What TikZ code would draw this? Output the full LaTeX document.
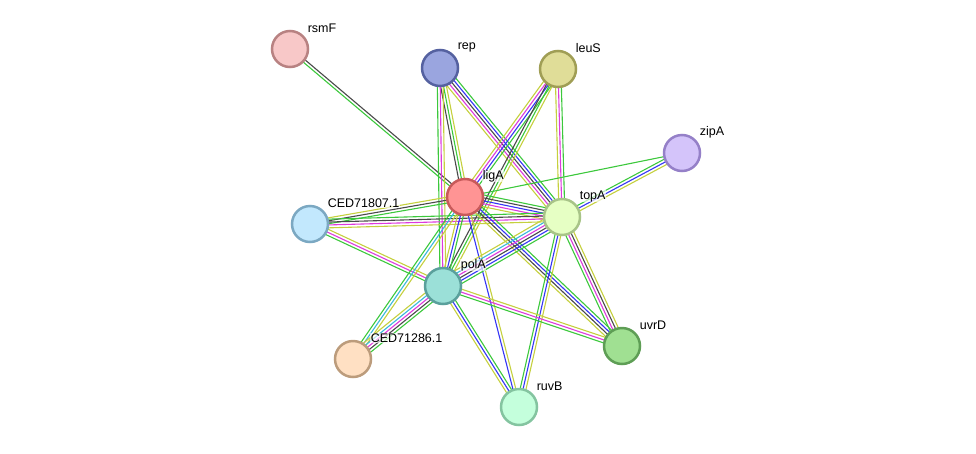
\documentclass[tikz,border=0pt]{standalone}
\usepackage{fontspec}
\setmainfont{Liberation Sans}
\usetikzlibrary{calc, backgrounds}
\definecolor{sgreen}{HTML}{3CC83C}
\definecolor{smagenta}{HTML}{DD3ADD}
\definecolor{sblue}{HTML}{3535F5}
\definecolor{sblack}{HTML}{4A4A4A}
\definecolor{syellow}{HTML}{C5D03E}
\definecolor{scyan}{HTML}{3AB8DC}
% node fill / border pairs
\definecolor{fRsmF}{HTML}{F8C8C8}\definecolor{dRsmF}{HTML}{B88282}
\definecolor{fRep}{HTML}{9AA5DF}\definecolor{dRep}{HTML}{5561A0}
\definecolor{fLeuS}{HTML}{E0DD98}\definecolor{dLeuS}{HTML}{A09E55}
\definecolor{fZipA}{HTML}{D4C4FA}\definecolor{dZipA}{HTML}{9580C8}
\definecolor{fLigA}{HTML}{FF9494}\definecolor{dLigA}{HTML}{C85A5A}
\definecolor{fTopA}{HTML}{E6FFC4}\definecolor{dTopA}{HTML}{A8C488}
\definecolor{fCedA}{HTML}{C2E8FD}\definecolor{dCedA}{HTML}{7BA8C2}
\definecolor{fPolA}{HTML}{9BE0D8}\definecolor{dPolA}{HTML}{5AA09C}
\definecolor{fCedB}{HTML}{FFE0C3}\definecolor{dCedB}{HTML}{BC9C7C}
\definecolor{fUvrD}{HTML}{A0E092}\definecolor{dUvrD}{HTML}{5E9E55}
\definecolor{fRuvB}{HTML}{C4FFDC}\definecolor{dRuvB}{HTML}{84C4A0}
\tikzset{
  every picture/.style={font=\fontsize{12.5}{14}\selectfont},
  prot/.style={circle, draw=d#1, fill=f#1, line width=2.5pt, minimum size=36pt, inner sep=0pt},
  lbl/.style={anchor=west, inner sep=0.6pt, fill=white, fill opacity=0.65, text opacity=1},
  link/.style={line width=1.1pt},
}
% one straight edge per evidence channel, offset side by side
\newcommand{\strlink}[4]{%
  \foreach \c [count=\i] in {#4} {
    \pgfmathsetmacro{\o}{(\i-(#3+1)/2)*2.9}
    \draw[link, \c] ($(#1.center)!\o pt!90:(#2.center)$) -- ($(#2.center)!\o pt!-90:(#1.center)$);
  }}

\begin{document}
\begin{tikzpicture}[x=1pt, y=-1pt]
  \useasboundingbox (0,0) rectangle (976,453);
  % ---- proteins ----
  \node[prot=RsmF] (rsmF) at (290,49) {};
  \node[prot=Rep] (rep) at (440,68) {};
  \node[prot=LeuS] (leuS) at (558,69) {};
  \node[prot=ZipA] (zipA) at (682,153) {};
  \node[prot=LigA] (ligA) at (465,197) {};
  \node[prot=TopA] (topA) at (562,217) {};
  \node[prot=CedA] (ced807) at (310,224) {};
  \node[prot=PolA] (polA) at (443,286) {};
  \node[prot=CedB] (ced286) at (353,359) {};
  \node[prot=UvrD] (uvrD) at (622,346) {};
  \node[prot=RuvB] (ruvB) at (519,407) {};
  % ---- names ----
  \node[lbl] (rsmF-l) at ($(rsmF)+(17,-21)$) {rsmF};
  \node[lbl] (rep-l) at ($(rep)+(17,-21)$) {rep};
  \node[lbl] (leuS-l) at ($(leuS)+(17,-21)$) {leuS};
  \node[lbl] (zipA-l) at ($(zipA)+(17,-21)$) {zipA};
  \node[lbl] (ligA-l) at ($(ligA)+(17,-21)$) {ligA};
  \node[lbl] (topA-l) at ($(topA)+(17,-21)$) {topA};
  \node[lbl] (ced807-l) at ($(ced807)+(17,-21)$) {CED71807.1};
  \node[lbl] (polA-l) at ($(polA)+(17,-21)$) {polA};
  \node[lbl] (ced286-l) at ($(ced286)+(17,-21)$) {CED71286.1};
  \node[lbl] (uvrD-l) at ($(uvrD)+(17,-21)$) {uvrD};
  \node[lbl] (ruvB-l) at ($(ruvB)+(17,-21)$) {ruvB};
  % ---- interactions ----
  \begin{scope}[on background layer]
    \strlink{rsmF}{ligA}{2}{sgreen, sblack}
    \strlink{rep}{ligA}{3}{sblack, sgreen, syellow}
    \strlink{rep}{polA}{3}{sgreen, smagenta, syellow}
    \strlink{rep}{topA}{5}{syellow, smagenta, sblack, sblue, sgreen}
    \strlink{leuS}{ligA}{4}{syellow, smagenta, sblue, sgreen}
    \strlink{leuS}{polA}{3}{sblack, sgreen, syellow}
    \strlink{leuS}{topA}{3}{syellow, smagenta, sgreen}
    \strlink{zipA}{ligA}{1}{sgreen}
    \strlink{zipA}{topA}{3}{sgreen, sblue, syellow}
    \strlink{ligA}{topA}{5}{syellow, smagenta, sblue, sblack, sgreen}
    \strlink{ced807}{ligA}{3}{sgreen, sblack, syellow}
    \strlink{ced807}{topA}{4}{syellow, smagenta, sblack, sgreen}
    \strlink{ced807}{polA}{3}{sgreen, smagenta, syellow}
    \strlink{ligA}{polA}{3}{syellow, sblue, sgreen}
    \strlink{ligA}{ced286}{3}{sgreen, scyan, syellow}
    \strlink{ligA}{uvrD}{4}{syellow, sblack, sblue, sgreen}
    \strlink{ligA}{ruvB}{2}{sblue, syellow}
    \strlink{topA}{uvrD}{4}{sgreen, smagenta, sblack, syellow}
    \strlink{topA}{ruvB}{3}{sgreen, sblue, syellow}
    \strlink{polA}{topA}{6}{sgreen, sblue, sblack, smagenta, scyan, syellow}
    \strlink{polA}{ced286}{5}{syellow, scyan, smagenta, sblack, sgreen}
    \strlink{polA}{uvrD}{3}{sgreen, smagenta, syellow}
    \strlink{polA}{ruvB}{3}{syellow, sblue, sgreen}
  \end{scope}
\end{tikzpicture}
\end{document}
